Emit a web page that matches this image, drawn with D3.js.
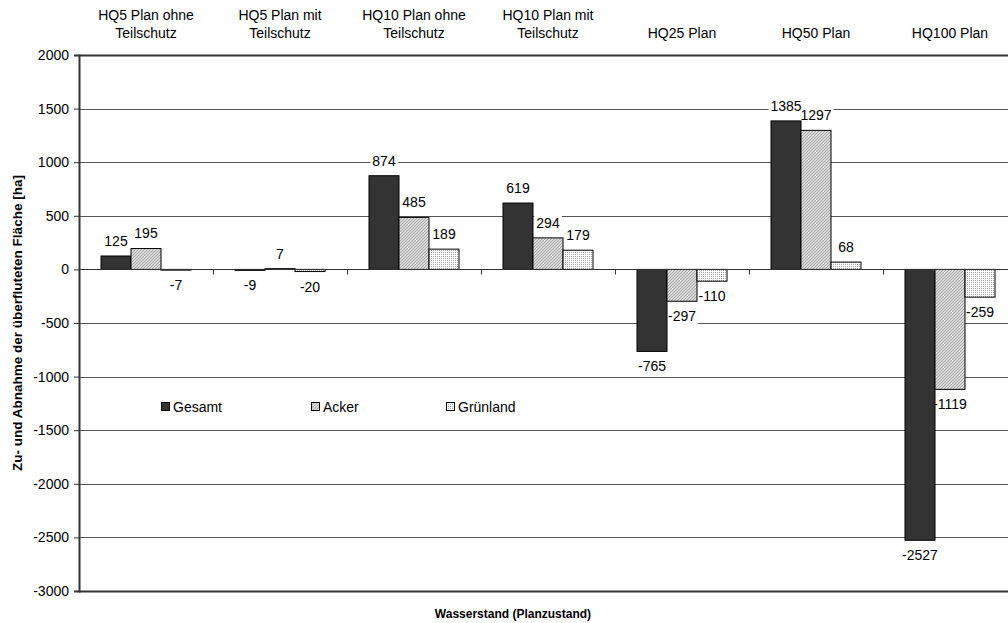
<!DOCTYPE html>
<html>
<head>
<meta charset="utf-8">
<script src="https://cdn.jsdelivr.net/npm/d3@7"></script>
<style>
  html, body { margin: 0; padding: 0; background: #fff; }
  svg { display: block; font-family: "Liberation Sans", Arial, sans-serif; }
</style>
</head>
<body>
<svg id="chart" width="1008" height="623"></svg>
<script>
// ---- data ----
const categories = ["HQ5 Plan ohne\nTeilschutz", "HQ5 Plan mit\nTeilschutz", "HQ10 Plan ohne\nTeilschutz",
                    "HQ10 Plan mit\nTeilschutz", "HQ25 Plan", "HQ50 Plan", "HQ100 Plan"];
const seriesNames = ["Gesamt", "Acker", "Grünland"];
const gesamt   = [125, -9, 874, 619, -765, 1385, -2527];
const acker    = [195, 7, 485, 294, -297, 1297, -1119];
const gruenland = [-7, -20, 189, 179, -110, 68, -259];
const yTicks = [-3000, -2500, -2000, -1500, -1000, -500, 0, 500, 1000, 1500, 2000];
const yTitle = "Zu- und Abnahme der überfluteten Fläche [ha]";
const xTitle = "Wasserstand (Planzustand)";

const seriesValues = [gesamt, acker, gruenland];

const svg = d3.select("#chart");
const plotLeft = 79, plotTop = 55, plotBottom = 591;
const bandW = 134;
const plotRight = plotLeft + bandW * categories.length;

// patterns
const defs = svg.append("defs");
const pA = defs.append("pattern").attr("id", "pAcker").attr("patternUnits", "userSpaceOnUse")
  .attr("width", 3).attr("height", 3);
pA.append("rect").attr("width", 3).attr("height", 3).attr("fill", "#d6d6d6");
pA.append("path").attr("d", "M-1,1 L1,-1 M0,3 L3,0 M2,4 L4,2").attr("stroke", "#a2a2a2").attr("stroke-width", 0.8);
const pG = defs.append("pattern").attr("id", "pGruen").attr("patternUnits", "userSpaceOnUse")
  .attr("width", 2).attr("height", 2);
pG.append("rect").attr("width", 2).attr("height", 2).attr("fill", "#ffffff");
pG.append("rect").attr("x", 0).attr("y", 0).attr("width", 1).attr("height", 1).attr("fill", "#a8a8a8");
const fills = ["#333333", "url(#pAcker)", "url(#pGruen)"];

// scales
const x = d3.scaleBand().domain(categories).range([plotLeft, plotRight]).padding(0);
const xs = d3.scaleBand().domain(seriesNames).range([22, 112]).padding(0);
const y = d3.scaleLinear().domain([-3000, 2000]).range([plotBottom, plotTop]);

// gridlines
svg.append("g").selectAll("line").data(yTicks).join("line")
  .attr("x1", plotLeft).attr("x2", plotRight)
  .attr("y1", d => Math.round(y(d)) + 0.5).attr("y2", d => Math.round(y(d)) + 0.5)
  .attr("stroke", d => (d === 2000 || d === -3000) ? "#333" : "#555")
  .attr("stroke-width", d => (d === 2000 || d === -3000) ? 2 : 1);

// y axis
const yAxis = d3.axisLeft(y).tickValues(yTicks).tickSize(5).tickPadding(5).tickFormat(d => String(d));
const gy = svg.append("g").attr("transform", `translate(${plotLeft},0)`).call(yAxis);
gy.select(".domain").attr("stroke", "#333").attr("stroke-width", 2);
gy.selectAll(".tick line").attr("stroke", "#333");
gy.selectAll(".tick text").attr("font-size", 14).attr("fill", "#000")
  .attr("font-family", "Liberation Sans, Arial, sans-serif");

// label layers: backgrounds under bars, texts above
const lblBg = svg.append("g");
const barLayer = svg.append("g");
const lblTx = svg.append("g");

// bars
const groups = barLayer.selectAll("g").data(categories).join("g")
  .attr("transform", d => `translate(${x(d)},0)`);
seriesNames.forEach((s, si) => {
  groups.append("rect")
    .attr("x", xs(s)).attr("width", xs.bandwidth())
    .attr("y", (d, i) => Math.min(y(seriesValues[si][i]), y(0)))
    .attr("height", (d, i) => Math.abs(y(seriesValues[si][i]) - y(0)))
    .attr("fill", fills[si]).attr("stroke", "#000").attr("stroke-width", 1);
});

// zero axis with category ticks
const zy = Math.round(y(0)) + 0.5;
barLayer.append("line").attr("x1", plotLeft).attr("x2", plotRight).attr("y1", zy).attr("y2", zy)
  .attr("stroke", "#333").attr("stroke-width", 1.2);
barLayer.append("g").selectAll("line").data(categories.slice(1)).join("line")
  .attr("x1", d => Math.round(x(d)) + 0.5).attr("x2", d => Math.round(x(d)) + 0.5)
  .attr("y1", zy).attr("y2", zy + 5).attr("stroke", "#333");

// data labels with white backgrounds
seriesNames.forEach((s, si) => {
  categories.forEach((c, ci) => {
    const v = seriesValues[si][ci];
    const cx = x(c) + xs(s) + xs.bandwidth() / 2;
    const cy = v >= 0 ? y(v) - 15 : y(v) + 15;
    const t = lblTx.append("text").attr("x", cx).attr("y", cy + 5)
      .attr("text-anchor", "middle").attr("font-size", 14).attr("fill", "#000").text(v);
    const bb = t.node().getBBox();
    lblBg.append("rect").attr("x", bb.x - 2).attr("y", bb.y).attr("width", bb.width + 4)
      .attr("height", bb.height).attr("fill", "#fff");
  });
});

// category labels on top
categories.forEach(c => {
  const lines = c.split("\n");
  const cx = x(c) + bandW / 2;
  lines.forEach((ln, li) => {
    svg.append("text").attr("x", cx).attr("y", 38 - (lines.length - 1 - li) * 18)
      .attr("text-anchor", "middle").attr("font-size", 14).attr("fill", "#000").text(ln);
  });
});

// legend
const legendX = [161, 311, 446];
seriesNames.forEach((s, si) => {
  svg.append("rect").attr("x", legendX[si] + 0.5).attr("y", 402.5).attr("width", 8).attr("height", 8)
    .attr("fill", fills[si]).attr("stroke", "#000");
  svg.append("text").attr("x", legendX[si] + 12).attr("y", 412).attr("font-size", 14).attr("fill", "#000").text(s);
});

// axis titles
svg.append("text").attr("transform", `translate(22,${(plotTop + plotBottom) / 2}) rotate(-90)`)
  .attr("text-anchor", "middle").attr("font-size", 13.5).attr("font-weight", "bold").text(yTitle);
svg.append("text").attr("x", 513).attr("y", 618).attr("text-anchor", "middle")
  .attr("font-size", 12).attr("font-weight", "bold").text(xTitle);
</script>
</body>
</html>
